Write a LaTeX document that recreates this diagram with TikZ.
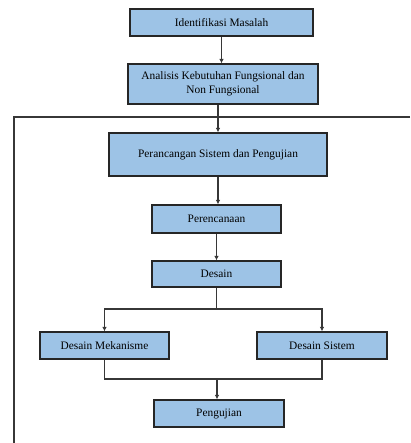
\documentclass[tikz,border=0pt]{standalone}
\usepackage{fontspec}
\setmainfont{Liberation Serif}
\usetikzlibrary{arrows.meta}
\definecolor{boxblue}{RGB}{157,195,230}
\definecolor{linegray}{RGB}{55,55,55}
\begin{document}
\begin{tikzpicture}[x=1pt,y=-1pt,
	every node/.style={black,font=\fontsize{11.4}{13.5}\selectfont},
	box/.style={draw=black!85,fill=boxblue,line width=1.2pt,inner sep=2pt,align=center},
	flow/.style={draw=linegray,line width=1.1pt},
	arr/.style={flow,-{Latex[length=4.5pt,width=4.5pt]}}]
	\useasboundingbox (0,0) rectangle (410,443);

	\node[box,minimum width=183,minimum height=27] (b1) at (221.5,22.5) {Identifikasi Masalah};
	\node[box,minimum width=190,minimum height=40] (b2) at (223,84) {Analisis Kebutuhan Fungsional dan\\Non Fungsional};
	\node[box,minimum width=218,minimum height=43] (b3) at (218,154.5) {Perancangan Sistem dan Pengujian};
	\node[box,minimum width=129,minimum height=28] (b4) at (216.5,219) {Perencanaan};
	\node[box,minimum width=129,minimum height=26] (b5) at (216.5,274) {Desain};
	\node[box,minimum width=129,minimum height=27] (b6) at (104.5,345.5) {Desain Mekanisme};
	\node[box,minimum width=130,minimum height=27] (b7) at (322,345.5) {Desain Sistem};
	\node[box,minimum width=130,minimum height=27] (b8) at (219,413.5) {Pengujian};

	\coordinate (sp) at (215,309);
	\coordinate (jn) at (217,379);

	% frame round the design stage
	\draw[flow] (410,117) -- (14,117) -- (14,443);

	\draw[arr] (b1.south) -- (b1.south |- b2.north);
	\draw[arr] (b2.south -| b3.north) -- (b3.north);
	\draw[arr] (b3.south) -- (b3.south |- b4.north);
	\draw[arr] (b4.south) -- (b4.south |- b5.north);
	\draw[flow] (b5.south) -- (b5.south |- sp);
	\draw[arr] (b5.south |- sp) -| (b6.north);
	\draw[arr] (b5.south |- sp) -| (b7.north);
	\draw[flow] (b6.south) |- (jn);
	\draw[flow] (b7.south) |- (jn);
	\draw[arr] (jn) -- (jn |- b8.north);
\end{tikzpicture}
\end{document}
